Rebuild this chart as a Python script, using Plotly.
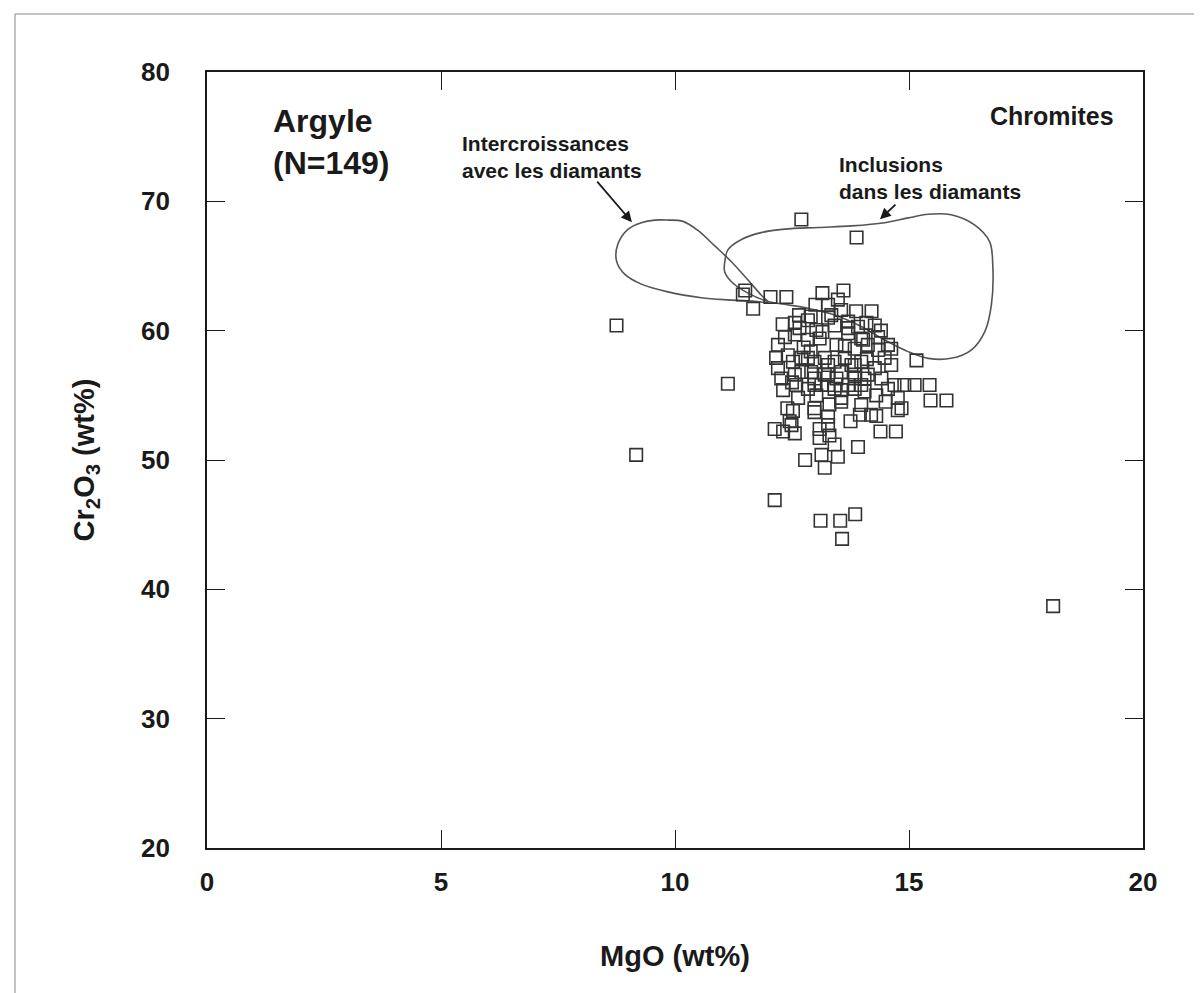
import plotly.graph_objects as go

# ---- data ----
mgo = [8.75, 9.17, 11.13, 11.45, 11.50, 11.67, 12.04, 12.38, 12.70, 13.88,
       18.08, 12.13, 13.11, 13.53, 13.85, 13.57, 14.39, 14.72, 15.46, 15.80,
       15.16, 15.44, 12.13, 12.31, 12.49, 12.56, 13.91, 12.78, 13.20, 13.48,
       13.13, 13.41, 13.09, 13.30, 13.09, 12.52, 12.98, 13.27, 13.95, 14.30,
       14.76, 13.27, 13.48, 13.55, 13.87, 12.56, 12.84, 12.66, 13.02, 13.09,
       13.34, 13.41, 13.70, 13.91, 14.02, 12.20, 12.16, 12.20, 12.27, 12.31,
       12.52, 12.56, 12.59, 12.41, 12.84, 12.91, 12.98, 13.02, 13.20, 13.20,
       13.27, 13.41, 13.45, 13.55, 13.77, 13.84, 13.84, 13.98, 14.05, 14.05,
       12.45, 13.55, 13.70, 14.09, 14.27, 13.27, 12.90, 13.15, 13.70, 13.98,
       14.34, 14.55, 14.62, 12.56, 12.84, 12.75, 13.63, 13.84, 14.12, 14.34,
       14.48, 14.62, 13.63, 13.84, 14.10, 14.27, 13.55, 13.84, 14.12, 14.41,
       14.55, 14.69, 14.90, 15.12, 12.70, 12.98, 13.27, 12.70, 12.98, 13.27,
       12.50, 12.84, 13.13, 13.41, 13.70, 13.98, 12.63, 12.98, 13.30, 13.55,
       13.98, 14.19, 14.76, 14.84, 13.27, 12.35, 12.30, 13.00, 13.15, 13.60,
       14.20, 14.40, 12.40, 13.75, 14.50, 12.90, 13.45, 14.30, 12.65]
cr2o3 = [60.4, 50.4, 55.9, 62.8, 63.1, 61.7, 62.6, 62.6, 68.6, 67.2,
         38.7, 46.9, 45.3, 45.3, 45.8, 43.9, 52.2, 52.2, 54.6, 54.6,
         57.7, 55.8, 52.4, 52.2, 52.7, 52.06, 51.0, 50.0, 49.4, 50.25,
         50.4, 51.2, 51.7, 51.9, 52.4, 53.8, 53.7, 53.35, 53.5, 53.4,
         53.85, 62.0, 62.4, 61.6, 61.5, 60.6, 60.8, 60.2, 60.05, 59.4,
         61.2, 60.4, 60.2, 60.3, 59.3, 58.9, 57.9, 57.1, 56.3, 55.4,
         57.6, 56.6, 55.8, 58.1, 57.9, 56.8, 55.8, 55.0, 57.9, 56.6,
         55.8, 57.6, 56.3, 55.4, 57.35, 56.6, 55.5, 57.6, 56.3, 55.3,
         53.0, 54.8, 60.7, 60.6, 60.4, 61.0, 61.1, 59.9, 59.8, 59.4,
         59.5, 58.9, 58.6, 59.7, 59.3, 58.7, 58.8, 58.6, 58.9, 58.5,
         57.9, 57.35, 57.9, 57.35, 57.8, 57.1, 56.8, 56.3, 56.6, 56.3,
         55.5, 55.8, 55.8, 55.8, 57.9, 57.6, 57.35, 56.8, 56.3, 56.6,
         56.0, 55.5, 55.8, 55.5, 55.8, 55.8, 54.8, 54.0, 54.3, 54.5,
         54.25, 53.5, 54.8, 54.0, 52.7, 59.5, 60.5, 62.0, 62.9, 63.1,
         61.5, 60.0, 54.0, 53.0, 54.5, 58.4, 58.9, 55.0, 61.2]

# field outlines
inter_x = [9.57, 9.85, 10.17, 10.49, 10.85, 11.20, 11.56, 11.84, 11.99, 11.70,
           11.13, 10.56, 9.85, 9.28, 8.93, 8.75, 8.78, 9.00, 9.28, 9.57]
inter_y = [68.55, 68.55, 68.45, 67.75, 66.55, 65.35, 63.92, 62.76, 62.20, 62.28,
           62.38, 62.55, 63.00, 63.60, 64.35, 65.40, 66.70, 67.85, 68.35, 68.55]
incl_x = [12.34, 13.06, 13.77, 14.48, 14.98, 15.41, 15.90, 16.40, 16.72, 16.79,
          16.76, 16.62, 16.33, 15.90, 15.41, 14.98, 14.48, 13.98, 13.41, 12.84,
          12.34, 11.99, 11.56, 11.20, 11.06, 11.06, 11.13, 11.42, 11.84, 12.34]
incl_y = [67.85, 67.98, 68.10, 68.35, 68.72, 69.00, 68.96, 68.18, 66.90, 65.10,
          62.00, 59.93, 58.50, 57.86, 57.86, 58.38, 59.28, 60.32, 61.21, 61.73,
          62.04, 62.25, 62.90, 63.80, 64.57, 65.22, 66.25, 67.05, 67.58, 67.85]

x_ticks = [0, 5, 10, 15, 20]
y_ticks = [20, 30, 40, 50, 60, 70, 80]

FONT = "Liberation Sans, Arial, Helvetica, sans-serif"
ink = "#1a1a1a"

fig = go.Figure()
for xs, ys in ((inter_x, inter_y), (incl_x, incl_y)):
    fig.add_trace(go.Scatter(x=xs, y=ys, mode="lines",
                             line=dict(color="#555555", width=1.6, shape="spline", smoothing=1.0),
                             hoverinfo="skip", showlegend=False))
fig.add_trace(go.Scatter(x=mgo, y=cr2o3, mode="markers",
                         marker=dict(symbol="square-open", size=12.5, color="#333333",
                                     line=dict(width=1.6, color="#333333")),
                         showlegend=False))

tickfont = dict(family=FONT, size=26, color=ink, weight="bold")
titlefont = dict(family=FONT, size=29, color=ink, weight="bold")
common = dict(showgrid=False, zeroline=False, showline=True, linecolor=ink, linewidth=1.6,
              mirror="ticks", ticks="inside", ticklen=18, tickwidth=1.3, tickcolor=ink,
              tickfont=tickfont, automargin=False)
fig.update_xaxes(range=[0, 20], tickvals=x_ticks, ticktext=[str(v) for v in x_ticks],
                 ticklabelstandoff=10,
                 title=dict(text="MgO (wt%)", font=titlefont, standoff=50), **common)
fig.update_yaxes(range=[20, 80], tickvals=y_ticks, ticktext=[str(v) for v in y_ticks],
                 ticklabelstandoff=30,
                 title=dict(text="Cr<sub>2</sub>O<sub>3</sub> (wt%)", font=titlefont, standoff=38),
                 **common)

L, R, T, B = 199, 1135, 64, 840
W, H = 1202, 993
def px(x): return (x - L) / (R - L)
def py(y): return (B - y) / (B - T)

annots = [
    dict(x=px(263), y=py(134), xref="paper", yref="paper", text="Argyle<br>(N=149)", showarrow=False,
         align="left", xanchor="left", yanchor="middle",
         font=dict(family=FONT, size=32, color=ink, weight="bold")),
    dict(x=px(1108), y=py(108), xref="paper", yref="paper", text="Chromites", showarrow=False,
         xanchor="right", yanchor="middle",
         font=dict(family=FONT, size=25, color=ink, weight="bold")),
    dict(x=px(452), y=py(149), xref="paper", yref="paper",
         text="Intercroissances<br>avec les diamants", showarrow=False,
         align="left", xanchor="left", yanchor="middle",
         font=dict(family=FONT, size=21, color=ink, weight="bold")),
    dict(x=px(829), y=py(170), xref="paper", yref="paper",
         text="Inclusions<br>dans les diamants", showarrow=False,
         align="left", xanchor="left", yanchor="middle",
         font=dict(family=FONT, size=21, color=ink, weight="bold")),
    dict(x=9.08, y=68.39, xref="x", yref="y", text="", showarrow=True,
         ax=-36, ay=-42, arrowhead=2, arrowsize=1.2, arrowwidth=1.8, arrowcolor=ink),
    dict(x=14.38, y=68.62, xref="x", yref="y", text="", showarrow=True,
         ax=17, ay=-16, arrowhead=2, arrowsize=1.2, arrowwidth=1.8, arrowcolor=ink),
]

fig.update_layout(
    width=W, height=H,
    margin=dict(l=L, r=W - R, t=T, b=H - B),
    paper_bgcolor="white", plot_bgcolor="white",
    annotations=annots,
    shapes=[dict(type="rect", xref="paper", yref="paper",
                 x0=px(7), x1=px(1195), y0=py(987), y1=py(6),
                 line=dict(color="#888888", width=1))],
)

fig.write_html("out.html")
